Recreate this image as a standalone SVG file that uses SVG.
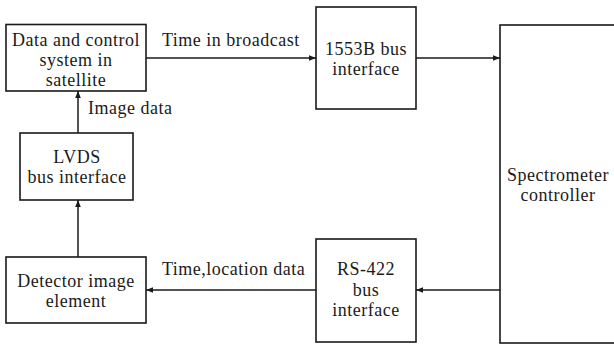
<svg xmlns="http://www.w3.org/2000/svg" width="614" height="344" viewBox="0 0 614 344">
  <style>
    .box { fill: #fff; stroke: #1a1a1a; stroke-width: 1.6; }
    .lbl { font-family: 'Liberation Serif', 'DejaVu Serif', serif; font-size: 18px; fill: #1a1a1a; letter-spacing: 0.5px; }
    .mid { text-anchor: middle; }
    .wire { stroke: #1a1a1a; stroke-width: 1.5; fill: none; marker-end: url(#head); }
  </style>
  <defs>
    <marker id="head" viewBox="0 0 10 8" refX="10" refY="4" markerWidth="7" markerHeight="5.6" markerUnits="userSpaceOnUse" orient="auto">
      <path d="M0,0 L10,4 L0,8 Z" fill="#1a1a1a"/>
    </marker>
  </defs>
  <rect width="614" height="344" fill="#fff"/>

  <g id="connectors">
    <line class="wire" x1="146" y1="58" x2="316" y2="58"/>
    <line class="wire" x1="416" y1="58" x2="500" y2="58"/>
    <line class="wire" x1="500" y1="290" x2="416" y2="290"/>
    <line class="wire" x1="316" y1="290" x2="146" y2="290"/>
    <line class="wire" x1="78" y1="257" x2="78" y2="200"/>
    <line class="wire" x1="78" y1="133" x2="78" y2="91"/>
    <text class="lbl" x="162" y="46">Time in broadcast</text>
    <text class="lbl" x="88" y="114">Image data</text>
    <text class="lbl" x="162" y="275">Time,location data</text>
  </g>

  <g id="data-control">
    <rect class="box" x="6" y="24.5" width="140" height="66.5"/>
    <text class="lbl mid" x="76" y="46">Data and control</text>
    <text class="lbl mid" x="76" y="66">system in</text>
    <text class="lbl mid" x="76" y="86">satellite</text>
  </g>

  <g id="bus-1553b">
    <rect class="box" x="316" y="7" width="100" height="102"/>
    <text class="lbl mid" x="366" y="55">1553B bus</text>
    <text class="lbl mid" x="366" y="75">interface</text>
  </g>

  <g id="spectrometer">
    <rect class="box" x="500" y="25" width="140" height="318"/>
    <text class="lbl mid" x="558" y="181">Spectrometer</text>
    <text class="lbl mid" x="558" y="201">controller</text>
  </g>

  <g id="lvds">
    <rect class="box" x="20" y="133" width="113" height="67"/>
    <text class="lbl mid" x="77" y="163">LVDS</text>
    <text class="lbl mid" x="77" y="183">bus interface</text>
  </g>

  <g id="detector">
    <rect class="box" x="6" y="257" width="140" height="66"/>
    <text class="lbl mid" x="76" y="287">Detector image</text>
    <text class="lbl mid" x="76" y="307">element</text>
  </g>

  <g id="rs422">
    <rect class="box" x="316" y="239" width="100" height="103"/>
    <text class="lbl mid" x="366" y="275">RS-422</text>
    <text class="lbl mid" x="366" y="296">bus</text>
    <text class="lbl mid" x="366" y="316">interface</text>
  </g>
</svg>
